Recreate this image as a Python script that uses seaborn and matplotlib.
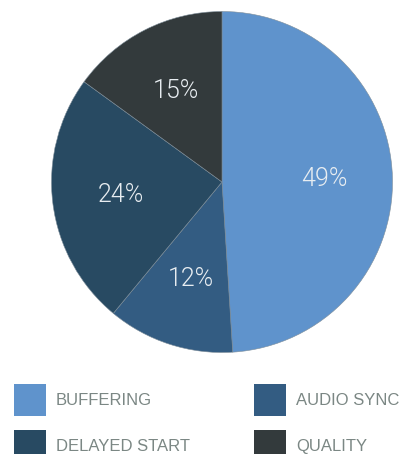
import matplotlib
matplotlib.use("Agg")
import matplotlib.pyplot as plt
from matplotlib.patches import Patch
import seaborn as sns

# Share of playback issues by category
categories = ["BUFFERING", "AUDIO SYNC", "DELAYED START", "QUALITY"]
shares = [49, 12, 24, 15]
colors = ["#5F93CC", "#335C82", "#284A62", "#333A3C"]

sns.set_theme(style="white")
plt.rcParams["font.family"] = ["Liberation Sans", "DejaVu Sans"]

W, H, DPI = 409, 454, 100
fig = plt.figure(figsize=(W / DPI, H / DPI), dpi=DPI)

cx, cy, r = 222, 182, 170.5
ax = fig.add_axes([(cx - r) / W, (H - cy - r) / H, 2 * r / W, 2 * r / H])

wedges, texts, autotexts = ax.pie(
    shares,
    colors=colors,
    startangle=90,
    counterclock=False,
    autopct=lambda p: f"{p:.0f}%",
    pctdistance=0.6,
    wedgeprops=dict(edgecolor="#7d8d99", linewidth=0.4),
    textprops=dict(color="#e8edf1", fontsize=18,
                   family=["Roboto", "DejaVu Sans"], fontweight=300),
)
ax.set_xlim(-1, 1)
ax.set_ylim(-1, 1)
ax.set_aspect("equal")
ax.axis("off")

# Legend: two columns, first column BUFFERING / DELAYED START
order = [0, 2, 1, 3]
handles = [Patch(facecolor=colors[i], edgecolor="none") for i in order]
labels = [categories[i] for i in order]
leg = fig.legend(
    handles,
    labels,
    ncol=2,
    loc="upper left",
    bbox_to_anchor=(14 / W, 1 - 384 / H),
    bbox_transform=fig.transFigure,
    frameon=False,
    fontsize=12,
    handlelength=1.92,
    handleheight=2.577,
    handletextpad=0.6,
    labelspacing=0.84,
    columnspacing=3.84,
    borderpad=0,
    borderaxespad=0,
)
for t in leg.get_texts():
    t.set_color("#7B8784")

fig.savefig("out.png", dpi=DPI)
